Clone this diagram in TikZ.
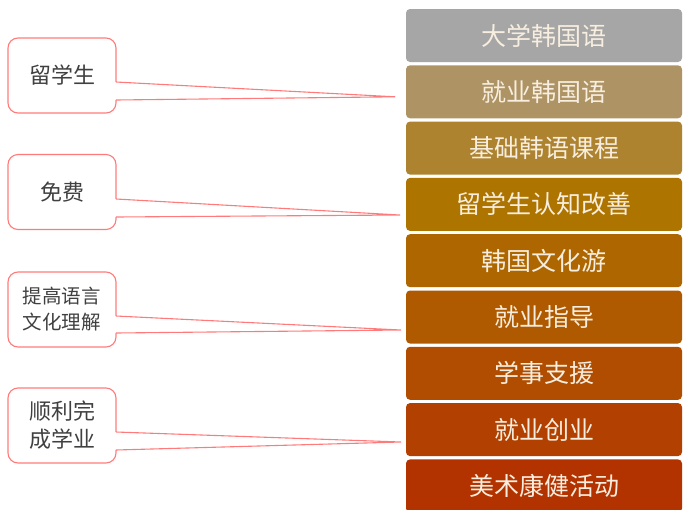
\documentclass[tikz,border=0pt]{standalone}
\usepackage{fontspec}
\newfontfamily\cjk{Noto Sans CJK SC}
\usetikzlibrary{calc}
\definecolor{cA}{HTML}{A6A6A6}
\definecolor{cB}{HTML}{AE9465}
\definecolor{cC}{HTML}{AE8330}
\definecolor{cD}{HTML}{AE7400}
\definecolor{cE}{HTML}{AE6700}
\definecolor{cF}{HTML}{AF5A00}
\definecolor{cG}{HTML}{B04D00}
\definecolor{cH}{HTML}{B24000}
\definecolor{cI}{HTML}{B33300}
\definecolor{redline}{HTML}{FF7B7B}
\definecolor{txtdark}{HTML}{404040}
\definecolor{txtlight}{HTML}{F7EEDF}
\tikzset{
  stepbox/.style={fill=#1, rounded corners=4pt, minimum width=276pt, minimum height=53pt,
    inner sep=0pt, text=txtlight, font=\cjk\fontsize{25}{28}\selectfont},
  callout/.style={draw=redline, line width=1.1pt, fill=white, rounded corners=10pt,
    minimum width=108pt, minimum height=75pt, inner sep=0pt, align=center, text=txtdark,
    font=\cjk\fontsize{22}{28}\selectfont},
  tail/.style={draw=redline, line width=1.1pt, line join=round},
}
\begin{document}
\begin{tikzpicture}[x=1pt,y=-1pt]
\clip (0,0) rectangle (685,509);
\fill[white] (0,0) rectangle (685,509);
% right stack
\node[stepbox=cA] (b1) at (544,35.5) {大学韩国语};
\node[stepbox=cB] (b2) at (544,91.8) {就业韩国语};
\node[stepbox=cC] (b3) at (544,148.1) {基础韩语课程};
\node[stepbox=cD] (b4) at (544,204.4) {留学生认知改善};
\node[stepbox=cE] (b5) at (544,260.7) {韩国文化游};
\node[stepbox=cF] (b6) at (544,317.0) {就业指导};
\node[stepbox=cG] (b7) at (544,373.3) {学事支援};
\node[stepbox=cH] (b8) at (544,429.6) {就业创业};
\node[stepbox=cI] (b9) at (544,485.9) {美术康健活动};
% callouts
\node[callout] (c1) at (62,75.5) {留学生};
\node[callout] (c2) at (62,192) {免费};
\node[callout, font=\cjk\fontsize{19.5}{26}\selectfont] (c3) at (62,309.5) {提高语言\\文化理解};
\node[callout] (c4) at (62,425.5) {顺利完\\成学业};
% tail tips
\coordinate (t1) at ($(b2.west)+(-11,5)$);
\coordinate (t2) at ($(b4.west)+(-6,10.6)$);
\coordinate (t3) at ($(b6.west)+(-5,13)$);
\coordinate (t4) at ($(b8.west)+(-5,12.4)$);
% tails
\foreach \c/\t/\ya/\yb in {c1/t1/-6.5/-24.5, c2/t2/-7/-25, c3/t3/-6.5/-23.5, c4/t4/-6.5/-24.5}{
  \fill[white] ([xshift=-1.5pt,yshift=\ya pt]\c.east) -- (\t) -- ([xshift=-1.5pt,yshift=\yb pt]\c.east) -- cycle;
  \draw[tail] ([xshift=-0.55pt,yshift=\ya pt]\c.east) -- (\t) -- ([xshift=-0.55pt,yshift=\yb pt]\c.east);
}
\end{tikzpicture}
\end{document}
